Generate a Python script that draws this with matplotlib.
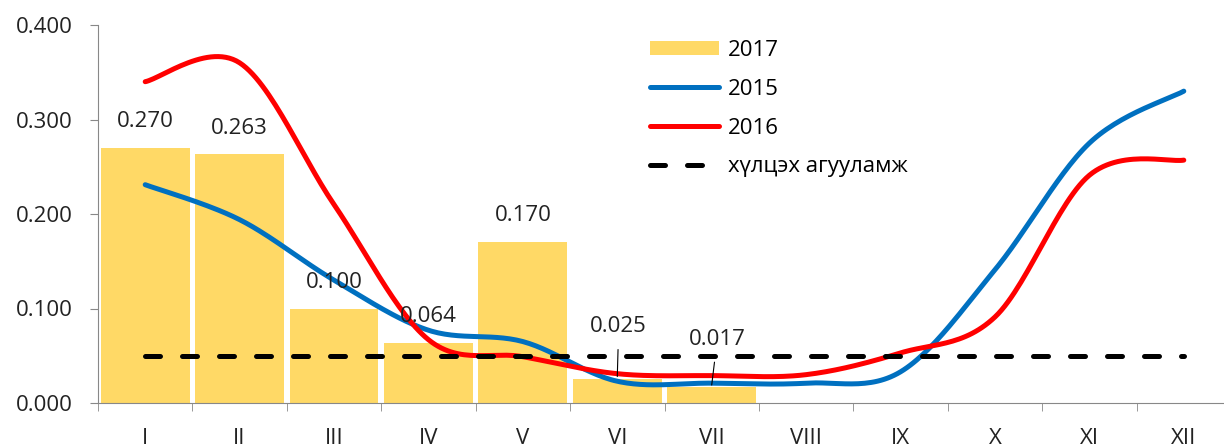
import numpy as np
import matplotlib
matplotlib.use("Agg")
from matplotlib import pyplot as plt

plt.rcParams['font.family'] = ['Open Sans', 'DejaVu Sans']

months = ['I', 'II', 'III', 'IV', 'V', 'VI', 'VII', 'VIII', 'IX', 'X', 'XI', 'XII']
v2017 = [0.270, 0.263, 0.100, 0.064, 0.170, 0.025, 0.017]
v2015 = [0.231, 0.194, 0.130, 0.077, 0.065, 0.023, 0.021, 0.021, 0.033, 0.141, 0.275, 0.330]
v2016 = [0.340, 0.360, 0.210, 0.067, 0.049, 0.031, 0.029, 0.030, 0.053, 0.091, 0.241, 0.257]
limit = [0.05] * 12

FS = 16


def smooth(y, n=30):
    # excel-like smoothed line (catmull-rom bezier between the points)
    y = np.asarray(y, dtype=float)
    x = np.arange(len(y), dtype=float)
    px = np.concatenate([[x[0]], x, [x[-1]]])
    py = np.concatenate([[y[0]], y, [y[-1]]])
    xs, ys = [], []
    t = np.linspace(0, 1, n)
    for i in range(1, len(px) - 2):
        p0 = np.array([px[i], py[i]])
        p3 = np.array([px[i + 1], py[i + 1]])
        c1 = p0 + (np.array([px[i + 1], py[i + 1]]) - np.array([px[i - 1], py[i - 1]])) / 6
        c2 = p3 - (np.array([px[i + 2], py[i + 2]]) - np.array([px[i], py[i]])) / 6
        b = ((1 - t) ** 3)[:, None] * p0 + (3 * (1 - t) ** 2 * t)[:, None] * c1 \
            + (3 * (1 - t) * t ** 2)[:, None] * c2 + (t ** 3)[:, None] * p3
        xs.extend(b[:, 0])
        ys.extend(b[:, 1])
    return np.array(xs), np.array(ys)


fig = plt.figure(figsize=(12.24, 4.45), dpi=100)
ax = fig.add_axes([98 / 1224, 42 / 445, 1133 / 1224, 378 / 445])

x = np.arange(len(months))
bars = ax.bar(x[:len(v2017)], v2017, width=0.94, color='#FFD966', label='2017', zorder=1)

sx, sy = smooth(v2015)
l15, = ax.plot(sx, sy, color='#0070C0', lw=3.6, solid_capstyle='round', label='2015', zorder=3)
sx, sy = smooth(v2016)
l16, = ax.plot(sx, sy, color='#FF0000', lw=3.6, solid_capstyle='round', label='2016', zorder=3)
lim, = ax.plot(x, limit, color='black', lw=3.6, dashes=(3, 4.4), dash_capstyle='round',
               label='хүлцэх агууламж', zorder=4)

# data labels of the bars
for i, v in enumerate(v2017):
    if i < 5:
        ax.annotate(f'{v:.3f}', (i, v), xytext=(0, 19), textcoords='offset points',
                    ha='center', va='center', fontsize=FS, color='#222222', zorder=5)
ax.annotate(f'{v2017[5]:.3f}', (5, v2017[5] + 0.003), xytext=(1, 36), textcoords='offset points',
            ha='center', va='center', fontsize=FS, color='#222222',
            arrowprops=dict(arrowstyle='-', color='black', lw=0.8, shrinkA=7, shrinkB=0), zorder=5)
ax.annotate(f'{v2017[6]:.3f}', (6, v2017[6] + 0.002), xytext=(4, 33), textcoords='offset points',
            ha='center', va='center', fontsize=FS, color='#222222',
            arrowprops=dict(arrowstyle='-', color='black', lw=0.8, shrinkA=7, shrinkB=0), zorder=5)

ax.set_xlim(-0.5, 11.5)
ax.set_ylim(0, 0.4)
ax.set_yticks([0, 0.1, 0.2, 0.3, 0.4])
ax.set_yticklabels([f'{v:.3f}' for v in [0, 0.1, 0.2, 0.3, 0.4]])
ax.set_xticks(x)
ax.set_xticklabels(months)
ax.set_xticks(np.arange(-0.5, 12, 1), minor=True)
ax.tick_params(axis='x', which='major', length=0, pad=18, labelsize=FS, labelcolor='#222222')
ax.tick_params(axis='x', which='minor', length=6, color='#888888', direction='out')
ax.tick_params(axis='y', length=6, color='#888888', pad=12, labelsize=FS, labelcolor='#222222')
for s in ['top', 'right']:
    ax.spines[s].set_visible(False)
for s in ['left', 'bottom']:
    ax.spines[s].set_color('#888888')

ax.legend([bars, l15, l16, lim], ['2017', '2015', '2016', 'хүлцэх агууламж'],
          loc='upper left', bbox_to_anchor=(650 / 1224, 1 - 40 / 445),
          bbox_transform=fig.transFigure, frameon=False,
          fontsize=FS, handlelength=3.1, handleheight=0.6, handletextpad=0.4,
          labelspacing=0.8, borderpad=0, borderaxespad=0)

fig.savefig('out.png', dpi=100)
